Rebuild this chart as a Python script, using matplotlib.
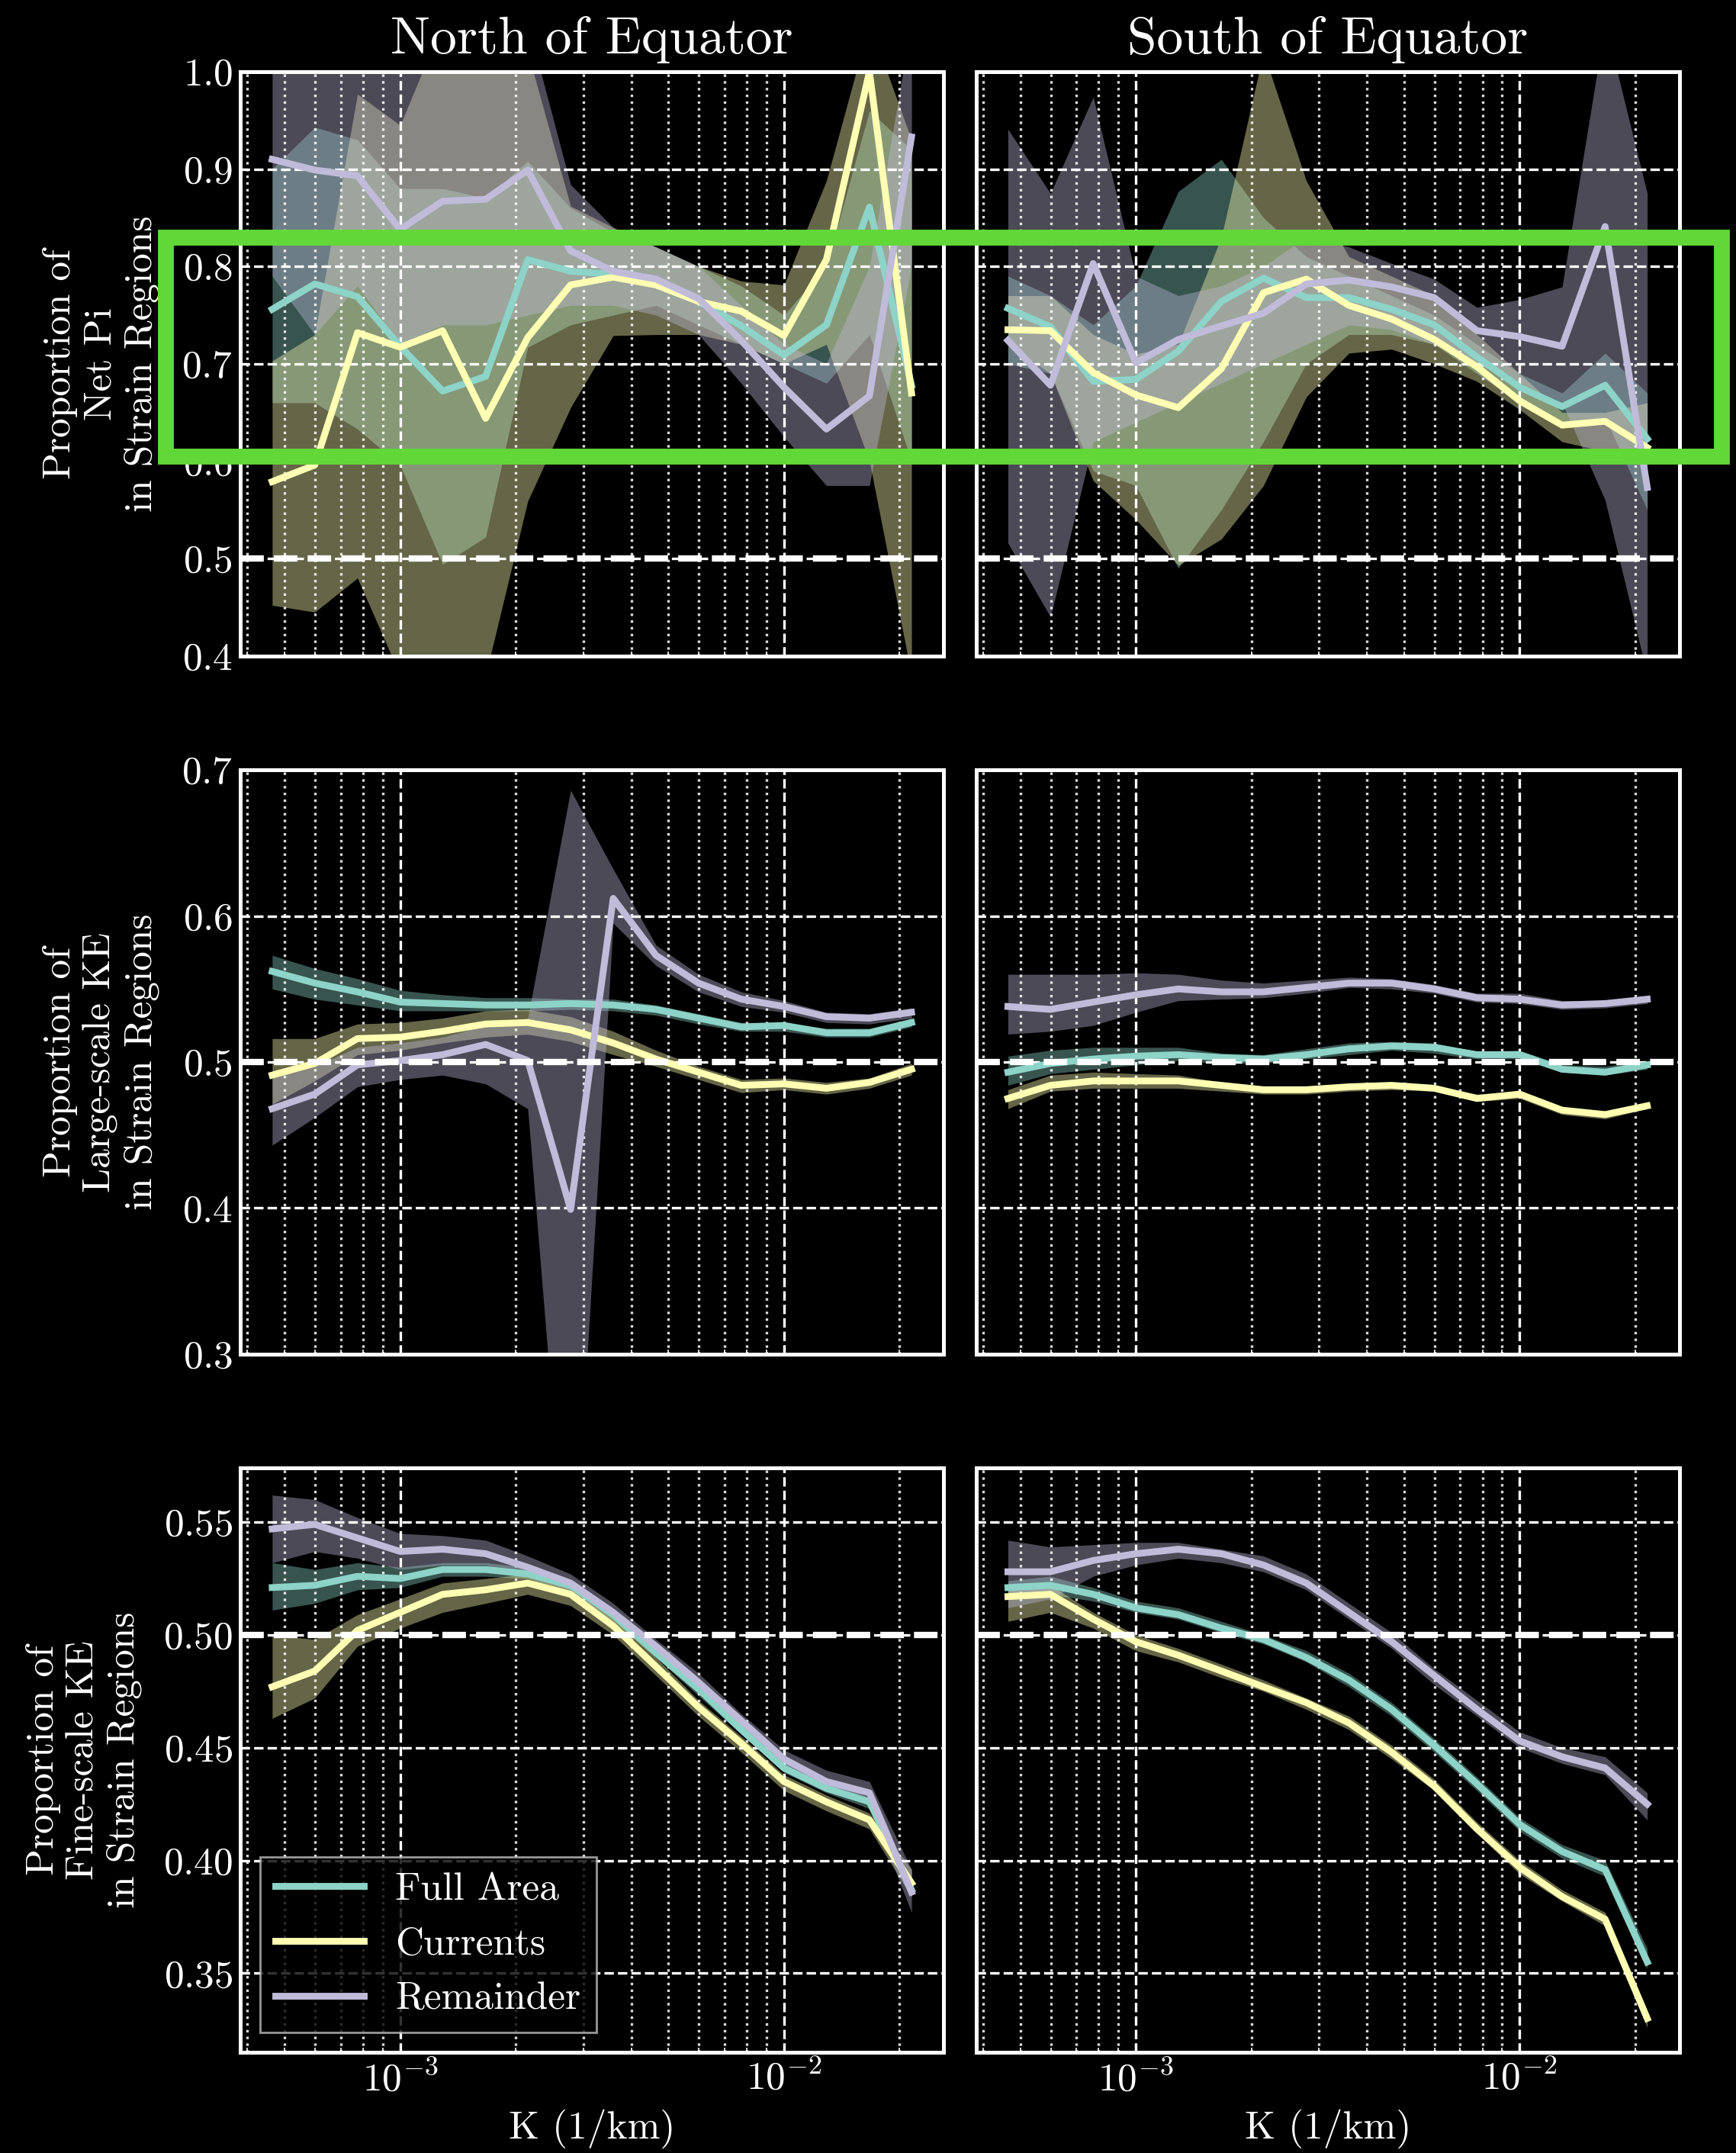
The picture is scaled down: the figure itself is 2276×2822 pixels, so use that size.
import matplotlib.pyplot as plt
from matplotlib.patches import Rectangle
from matplotlib.ticker import MultipleLocator

# wavenumber bins (1/km)
k = [4.64e-4, 5.99e-4, 7.74e-4, 1.00e-3, 1.29e-3, 1.67e-3, 2.15e-3, 2.78e-3,
     3.59e-3, 4.64e-3, 5.99e-3, 7.74e-3, 1.00e-2, 1.29e-2, 1.67e-2, 2.15e-2]

# ---- net Pi, north
pi_n_full = [0.756, 0.782, 0.769, 0.718, 0.672, 0.687, 0.807, 0.795, 0.792, 0.781, 0.764, 0.739, 0.709, 0.740, 0.861, 0.678]
pi_n_full_lo = [0.66, 0.66, 0.633, 0.596, 0.494, 0.522, 0.717, 0.74, 0.75, 0.76, 0.74, 0.72, 0.70, 0.68, 0.73, 0.60]
pi_n_full_hi = [0.90, 0.943, 0.93, 0.88, 0.88, 0.87, 0.908, 0.86, 0.835, 0.82, 0.80, 0.78, 0.75, 0.80, 0.96, 0.92]
pi_n_curr = [0.579, 0.596, 0.732, 0.717, 0.734, 0.644, 0.727, 0.781, 0.789, 0.781, 0.764, 0.754, 0.729, 0.807, 1.0, 0.670]
pi_n_curr_lo = [0.452, 0.445, 0.48, 0.38, 0.36, 0.38, 0.559, 0.655, 0.729, 0.73, 0.73, 0.72, 0.70, 0.72, 0.60, 0.38]
pi_n_curr_hi = [0.703, 0.73, 0.977, 0.945, 1.05, 1.05, 1.02, 0.862, 0.84, 0.82, 0.80, 0.785, 0.781, 0.888, 1.05, 0.93]
pi_n_rem = [0.910, 0.899, 0.893, 0.838, 0.867, 0.869, 0.899, 0.816, 0.795, 0.787, 0.767, 0.724, 0.676, 0.633, 0.667, 0.933]
pi_n_rem_lo = [0.79, 0.73, 0.78, 0.72, 0.74, 0.74, 0.75, 0.76, 0.76, 0.75, 0.73, 0.68, 0.625, 0.575, 0.575, 0.80]
pi_n_rem_hi = [1.05, 1.05, 1.05, 1.05, 1.05, 1.05, 1.05, 0.884, 0.84, 0.82, 0.80, 0.76, 0.72, 0.70, 0.80, 1.05]

# ---- net Pi, south
pi_s_full = [0.757, 0.738, 0.682, 0.684, 0.713, 0.764, 0.788, 0.768, 0.768, 0.756, 0.740, 0.707, 0.676, 0.656, 0.678, 0.623]
pi_s_full_lo = [0.70, 0.69, 0.59, 0.575, 0.49, 0.55, 0.62, 0.70, 0.73, 0.73, 0.72, 0.69, 0.66, 0.64, 0.645, 0.55]
pi_s_full_hi = [0.79, 0.77, 0.74, 0.78, 0.877, 0.91, 0.85, 0.81, 0.79, 0.77, 0.75, 0.72, 0.69, 0.67, 0.711, 0.67]
pi_s_curr = [0.735, 0.734, 0.691, 0.668, 0.655, 0.695, 0.773, 0.787, 0.760, 0.746, 0.725, 0.697, 0.662, 0.637, 0.641, 0.614]
pi_s_curr_lo = [0.72, 0.69, 0.58, 0.54, 0.493, 0.52, 0.575, 0.666, 0.711, 0.715, 0.70, 0.682, 0.653, 0.62, 0.61, 0.60]
pi_s_curr_hi = [0.77, 0.77, 0.73, 0.71, 0.72, 0.83, 1.02, 0.888, 0.81, 0.79, 0.77, 0.73, 0.69, 0.65, 0.65, 0.66]
pi_s_rem = [0.724, 0.678, 0.803, 0.701, 0.725, 0.739, 0.752, 0.782, 0.786, 0.779, 0.768, 0.734, 0.728, 0.718, 0.841, 0.573]
pi_s_rem_lo = [0.516, 0.44, 0.62, 0.64, 0.66, 0.68, 0.70, 0.72, 0.74, 0.735, 0.72, 0.70, 0.68, 0.66, 0.56, 0.38]
pi_s_rem_hi = [0.941, 0.875, 0.974, 0.79, 0.77, 0.78, 0.80, 0.83, 0.82, 0.803, 0.787, 0.758, 0.766, 0.779, 1.05, 0.875]

# ---- large-scale KE, north
lke_n_full = [0.562, 0.554, 0.548, 0.541, 0.540, 0.539, 0.539, 0.540, 0.539, 0.536, 0.530, 0.524, 0.525, 0.520, 0.520, 0.527]
lke_n_full_lo = [0.550, 0.543, 0.539, 0.535, 0.535, 0.535, 0.535, 0.536, 0.535, 0.532, 0.526, 0.521, 0.521, 0.517, 0.517, 0.524]
lke_n_full_hi = [0.573, 0.564, 0.557, 0.549, 0.546, 0.544, 0.544, 0.543, 0.543, 0.539, 0.533, 0.527, 0.527, 0.523, 0.523, 0.530]
lke_n_curr = [0.491, 0.499, 0.516, 0.517, 0.521, 0.526, 0.527, 0.522, 0.513, 0.502, 0.493, 0.484, 0.485, 0.482, 0.486, 0.495]
lke_n_curr_lo = [0.471, 0.487, 0.505, 0.508, 0.513, 0.517, 0.519, 0.514, 0.505, 0.497, 0.488, 0.479, 0.481, 0.478, 0.482, 0.491]
lke_n_curr_hi = [0.516, 0.516, 0.526, 0.527, 0.530, 0.535, 0.536, 0.531, 0.521, 0.508, 0.497, 0.488, 0.489, 0.486, 0.489, 0.499]
lke_n_rem = [0.468, 0.478, 0.498, 0.501, 0.505, 0.512, 0.501, 0.399, 0.612, 0.573, 0.554, 0.543, 0.538, 0.531, 0.530, 0.534]
lke_n_rem_lo = [0.443, 0.462, 0.483, 0.488, 0.491, 0.485, 0.468, 0.11, 0.595, 0.566, 0.548, 0.538, 0.534, 0.527, 0.526, 0.530]
lke_n_rem_hi = [0.490, 0.497, 0.510, 0.513, 0.517, 0.525, 0.530, 0.686, 0.632, 0.580, 0.560, 0.548, 0.542, 0.534, 0.533, 0.537]

# ---- large-scale KE, south
lke_s_full = [0.493, 0.499, 0.502, 0.504, 0.505, 0.503, 0.502, 0.505, 0.509, 0.511, 0.510, 0.505, 0.505, 0.495, 0.493, 0.498]
lke_s_full_lo = [0.484, 0.492, 0.495, 0.498, 0.501, 0.499, 0.499, 0.502, 0.505, 0.508, 0.506, 0.502, 0.502, 0.493, 0.491, 0.495]
lke_s_full_hi = [0.504, 0.508, 0.510, 0.510, 0.510, 0.506, 0.505, 0.509, 0.513, 0.514, 0.513, 0.507, 0.508, 0.498, 0.497, 0.501]
lke_s_curr = [0.475, 0.484, 0.487, 0.487, 0.487, 0.484, 0.481, 0.481, 0.483, 0.484, 0.482, 0.475, 0.478, 0.467, 0.464, 0.470]
lke_s_curr_lo = [0.468, 0.480, 0.482, 0.482, 0.482, 0.480, 0.478, 0.478, 0.480, 0.481, 0.480, 0.473, 0.475, 0.464, 0.461, 0.468]
lke_s_curr_hi = [0.481, 0.491, 0.493, 0.492, 0.491, 0.486, 0.483, 0.483, 0.485, 0.486, 0.484, 0.478, 0.480, 0.469, 0.466, 0.472]
lke_s_rem = [0.538, 0.536, 0.541, 0.546, 0.550, 0.548, 0.548, 0.551, 0.554, 0.554, 0.550, 0.544, 0.543, 0.539, 0.540, 0.543]
lke_s_rem_lo = [0.519, 0.521, 0.525, 0.534, 0.542, 0.543, 0.544, 0.547, 0.551, 0.550, 0.547, 0.541, 0.540, 0.536, 0.537, 0.540]
lke_s_rem_hi = [0.560, 0.560, 0.560, 0.561, 0.560, 0.556, 0.554, 0.556, 0.558, 0.557, 0.553, 0.547, 0.547, 0.542, 0.542, 0.545]

# ---- fine-scale KE, north
fke_n_full = [0.521, 0.522, 0.526, 0.525, 0.529, 0.529, 0.527, 0.522, 0.509, 0.492, 0.476, 0.458, 0.441, 0.432, 0.426, 0.387]
fke_n_full_lo = [0.511, 0.514, 0.520, 0.521, 0.526, 0.526, 0.525, 0.519, 0.506, 0.490, 0.473, 0.456, 0.439, 0.430, 0.423, 0.384]
fke_n_full_hi = [0.532, 0.529, 0.532, 0.530, 0.532, 0.532, 0.530, 0.524, 0.511, 0.495, 0.478, 0.461, 0.444, 0.435, 0.428, 0.391]
fke_n_curr = [0.477, 0.484, 0.502, 0.510, 0.518, 0.520, 0.523, 0.518, 0.504, 0.486, 0.468, 0.452, 0.435, 0.426, 0.418, 0.390]
fke_n_curr_lo = [0.463, 0.472, 0.495, 0.503, 0.510, 0.514, 0.518, 0.513, 0.500, 0.482, 0.464, 0.448, 0.431, 0.422, 0.414, 0.384]
fke_n_curr_hi = [0.500, 0.498, 0.509, 0.516, 0.523, 0.525, 0.527, 0.523, 0.509, 0.490, 0.471, 0.455, 0.438, 0.429, 0.421, 0.396]
fke_n_rem = [0.547, 0.549, 0.543, 0.537, 0.538, 0.536, 0.530, 0.523, 0.510, 0.495, 0.479, 0.462, 0.445, 0.435, 0.430, 0.386]
fke_n_rem_lo = [0.532, 0.537, 0.534, 0.529, 0.531, 0.531, 0.526, 0.520, 0.507, 0.491, 0.476, 0.458, 0.441, 0.431, 0.425, 0.377]
fke_n_rem_hi = [0.562, 0.560, 0.552, 0.545, 0.544, 0.542, 0.535, 0.527, 0.514, 0.498, 0.483, 0.465, 0.449, 0.440, 0.435, 0.396]

# ---- fine-scale KE, south
fke_s_full = [0.521, 0.522, 0.518, 0.512, 0.509, 0.503, 0.498, 0.490, 0.480, 0.467, 0.451, 0.434, 0.416, 0.404, 0.396, 0.355]
fke_s_full_lo = [0.517, 0.518, 0.515, 0.510, 0.507, 0.501, 0.496, 0.488, 0.477, 0.464, 0.448, 0.431, 0.413, 0.401, 0.393, 0.352]
fke_s_full_hi = [0.524, 0.526, 0.521, 0.515, 0.512, 0.506, 0.500, 0.493, 0.483, 0.470, 0.454, 0.437, 0.419, 0.407, 0.400, 0.361]
fke_s_curr = [0.517, 0.518, 0.507, 0.497, 0.491, 0.484, 0.477, 0.470, 0.461, 0.448, 0.433, 0.414, 0.397, 0.384, 0.374, 0.330]
fke_s_curr_lo = [0.506, 0.510, 0.503, 0.493, 0.488, 0.481, 0.475, 0.467, 0.458, 0.445, 0.431, 0.412, 0.394, 0.382, 0.371, 0.326]
fke_s_curr_hi = [0.522, 0.522, 0.510, 0.500, 0.494, 0.487, 0.480, 0.472, 0.464, 0.451, 0.436, 0.417, 0.400, 0.387, 0.377, 0.332]
fke_s_rem = [0.528, 0.528, 0.533, 0.536, 0.538, 0.536, 0.531, 0.523, 0.510, 0.497, 0.482, 0.467, 0.453, 0.446, 0.441, 0.425]
fke_s_rem_lo = [0.512, 0.516, 0.526, 0.531, 0.534, 0.532, 0.528, 0.520, 0.507, 0.494, 0.478, 0.464, 0.450, 0.443, 0.438, 0.418]
fke_s_rem_hi = [0.542, 0.539, 0.540, 0.541, 0.541, 0.538, 0.535, 0.527, 0.514, 0.501, 0.485, 0.471, 0.457, 0.450, 0.446, 0.430]

labels = ['Full Area', 'Currents', 'Remainder']
colours = ['#8dd3c7', '#feffb3', '#bfbbd9']

plt.style.use('dark_background')
plt.rcParams['font.family'] = 'serif'
plt.rcParams['font.serif'] = ['cmr10']
plt.rcParams['mathtext.fontset'] = 'cm'
plt.rcParams['axes.formatter.use_mathtext'] = True
plt.rcParams['font.size'] = 18.5
plt.rcParams['axes.linewidth'] = 1.8


def strain_panel(ax, series):
    # series: list of (mean, lo, hi) for full area, currents, remainder
    for (mean, lo, hi), col, lab in zip(series, colours, labels):
        ax.fill_between(k, lo, hi, color=col, alpha=0.4, lw=0)
        ax.plot(k, mean, color=col, lw=3.2, label=lab)
    ax.axhline(0.5, color='w', ls='--', lw=3)
    ax.set_xscale('log')
    ax.set_xlim(10**-3.4167, 10**-1.5833)
    ax.grid(which='major', ls='--', color='w', lw=1.2)
    ax.grid(which='minor', axis='x', ls=':', color='w', lw=1.2, alpha=0.85)
    ax.tick_params(which='both', direction='in')


fig, axes = plt.subplots(3, 2, figsize=(11.38, 14.11), sharex=True, sharey='row')
fig.subplots_adjust(left=0.1384, right=0.9675, bottom=0.0468, top=0.9667,
                    wspace=0.0456, hspace=0.195)

strain_panel(axes[0, 0], [(pi_n_full, pi_n_full_lo, pi_n_full_hi),
                          (pi_n_curr, pi_n_curr_lo, pi_n_curr_hi),
                          (pi_n_rem, pi_n_rem_lo, pi_n_rem_hi)])
strain_panel(axes[0, 1], [(pi_s_full, pi_s_full_lo, pi_s_full_hi),
                          (pi_s_curr, pi_s_curr_lo, pi_s_curr_hi),
                          (pi_s_rem, pi_s_rem_lo, pi_s_rem_hi)])
strain_panel(axes[1, 0], [(lke_n_full, lke_n_full_lo, lke_n_full_hi),
                          (lke_n_curr, lke_n_curr_lo, lke_n_curr_hi),
                          (lke_n_rem, lke_n_rem_lo, lke_n_rem_hi)])
strain_panel(axes[1, 1], [(lke_s_full, lke_s_full_lo, lke_s_full_hi),
                          (lke_s_curr, lke_s_curr_lo, lke_s_curr_hi),
                          (lke_s_rem, lke_s_rem_lo, lke_s_rem_hi)])
strain_panel(axes[2, 0], [(fke_n_full, fke_n_full_lo, fke_n_full_hi),
                          (fke_n_curr, fke_n_curr_lo, fke_n_curr_hi),
                          (fke_n_rem, fke_n_rem_lo, fke_n_rem_hi)])
strain_panel(axes[2, 1], [(fke_s_full, fke_s_full_lo, fke_s_full_hi),
                          (fke_s_curr, fke_s_curr_lo, fke_s_curr_hi),
                          (fke_s_rem, fke_s_rem_lo, fke_s_rem_hi)])

axes[0, 0].set_ylim(0.4, 1.0)
axes[0, 0].yaxis.set_major_locator(MultipleLocator(0.1))
axes[1, 0].set_ylim(0.3, 0.7)
axes[1, 0].yaxis.set_major_locator(MultipleLocator(0.1))
axes[2, 0].set_ylim(0.315, 0.574)
axes[2, 0].yaxis.set_major_locator(MultipleLocator(0.05))

axes[0, 0].set_ylabel('Proportion of\nNet Pi\nin Strain Regions', labelpad=10.5)
axes[1, 0].set_ylabel('Proportion of\nLarge-scale KE\nin Strain Regions', labelpad=10.5)
axes[2, 0].set_ylabel('Proportion of\nFine-scale KE\nin Strain Regions', labelpad=10)

axes[0, 0].set_title('North of Equator', fontsize=25, pad=8.5)
axes[0, 1].set_title('South of Equator', fontsize=25, pad=8.5)
axes[2, 0].set_xlabel('K (1/km)', labelpad=5)
axes[2, 1].set_xlabel('K (1/km)', labelpad=5)

axes[2, 0].legend(loc='lower left', fancybox=False, edgecolor='0.75', framealpha=0.8,
                  handlelength=2.25)

# highlight box round the net Pi band
fig.add_artist(Rectangle((0.0953, 0.7881), 0.8963, 0.1017, transform=fig.transFigure,
                         fill=False, edgecolor='#62d838', lw=7.5, joinstyle='miter', zorder=10))

fig.savefig('out.png', dpi=200, facecolor='black')
